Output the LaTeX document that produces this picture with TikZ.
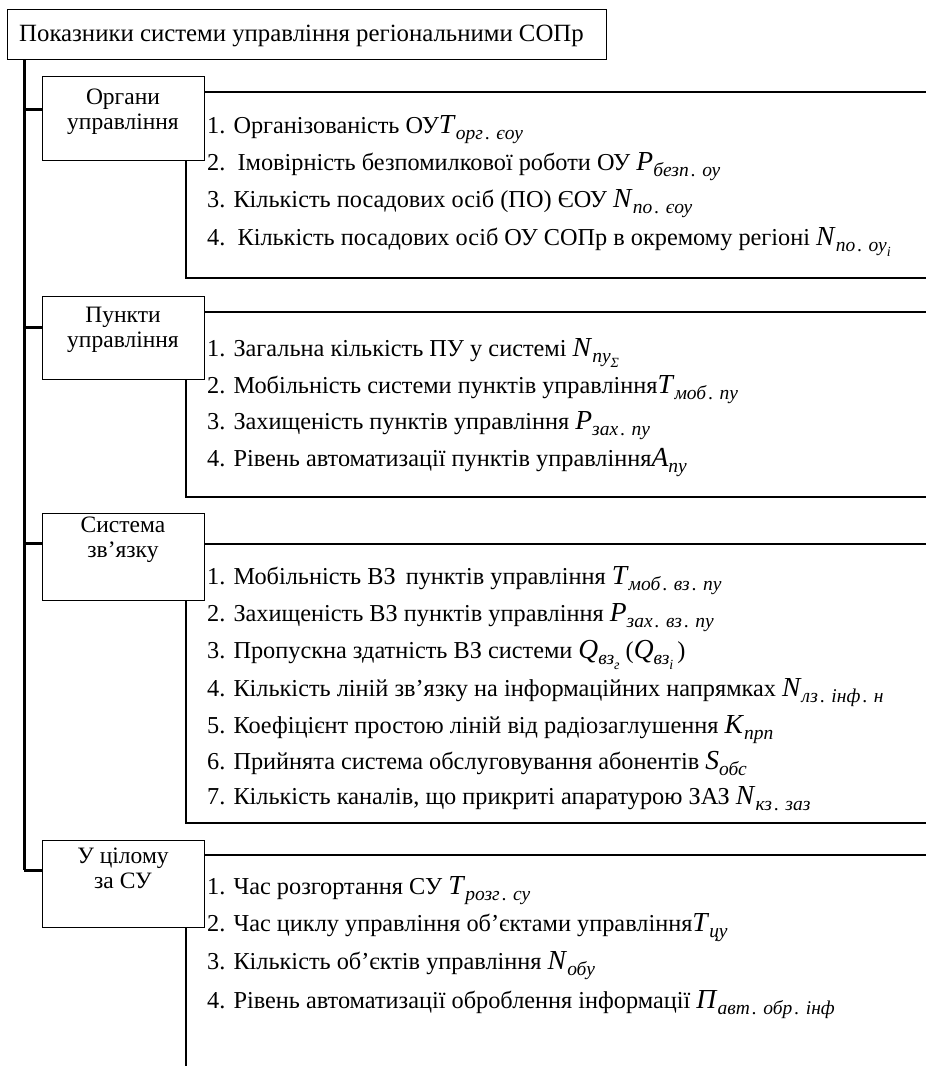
\documentclass[tikz,border=0pt]{standalone}
\usepackage{fontspec}
\setmainfont{Liberation Serif}
\newcommand\sd{\hspace{0.12em}.\hspace{0.32em}}
\newcommand\vr[2]{{\fontsize{27.5}{27.5}\selectfont\textit{#1}}\raisebox{-0.6ex}{\fontsize{19.5}{19.5}\selectfont\textit{#2}}}
\newcommand\vrr[3]{{\fontsize{27.5}{27.5}\selectfont\textit{#1}}\raisebox{-0.6ex}{\fontsize{19.5}{19.5}\selectfont\textit{#2}\raisebox{-0.55ex}{\fontsize{14}{14}\selectfont\textit{#3}}}}
\tikzset{
  catbox/.style={draw, line width=1.4pt, minimum width=162pt, anchor=north west, inner sep=0pt},
  cattext/.style={align=center, font=\fontsize{23.5}{25}\selectfont, inner sep=0pt},
  item/.style={anchor=base west, inner sep=0pt, font=\fontsize{24.3}{26}\selectfont},
  cline/.style={line width=1.6pt},
  trunk/.style={line width=3pt},
}
\begin{document}
\begin{tikzpicture}[x=1pt,y=-1pt]
\useasboundingbox (0,0) rectangle (926,1066);
% title
\node[draw, line width=1.4pt, anchor=north west, minimum width=599pt, minimum height=50pt, inner sep=0pt] (top) at (7,9) {};
\node[anchor=base west, inner sep=0pt, font=\fontsize{24.8}{26}\selectfont] (toptext) at (19,41) {Показники системи управління регіональними СОПр};
% categories
\node[catbox, minimum height=84pt] (c1) at (42,76) {};
\node[cattext] (t1) at (123,112) {Органи\\управління};
\node[catbox, minimum height=83pt] (c2) at (42,296) {};
\node[cattext] (t2) at (123,330) {Пункти\\управління};
\node[catbox, minimum height=87pt] (c3) at (42,513) {};
\node[cattext] (t3) at (123,540) {Система\\зв’язку};
\node[catbox, minimum height=87pt] (c4) at (42,840) {};
\node[cattext] (t4) at (123,868) {У цілому\\за СУ};
% trunk
\coordinate (ts) at (24,59);
\coordinate (b1) at (24,109);
\coordinate (b2) at (24,327);
\coordinate (b3) at (24,543);
\coordinate (b4) at (24,870);
\draw[trunk] (ts) -- (b4);
\draw[trunk] (b1) -- (b1 -| c1.west);
\draw[trunk] (b2) -- (b2 -| c2.west);
\draw[trunk] (b3) -- (b3 -| c3.west);
\draw[trunk] (b4) -- (b4 -| c4.west);
% content frames
\coordinate (r1t) at (926,92);  \coordinate (r1b) at (926,278);
\coordinate (r2t) at (926,312); \coordinate (r2b) at (926,497);
\coordinate (r3t) at (926,544); \coordinate (r3b) at (926,823);
\coordinate (r4t) at (926,855); \coordinate (r4b) at (186,1066);
\draw[cline] (r1t -| c1.east) -- (r1t);
\draw[cline] (186,160) -- (186,278) -- (r1b);
\draw[cline] (r2t -| c2.east) -- (r2t);
\draw[cline] (186,379) -- (186,497) -- (r2b);
\draw[cline] (r3t -| c3.east) -- (r3t);
\draw[cline] (186,600) -- (186,823) -- (r3b);
\draw[cline] (r4t -| c4.east) -- (r4t);
\draw[cline] (186,927) -- (r4b);
% items
\node[item] (a1) at (207,133) {1. Організованість ОУ\vr{T}{орг\sd єоу}};
\node[item] (a2) at (207,170) {2. \,Імовірність безпомилкової роботи ОУ \vr{P}{безп\sd оу}};
\node[item] (a3) at (207,207) {3. Кількість посадових осіб (ПО) ЄОУ \vr{N}{по\sd єоу}};
\node[item] (a4) at (207,245) {4. \,Кількість посадових осіб ОУ СОПр в окремому регіоні \vrr{N}{по\sd оу}{i}};
\node[item] (p1) at (207,356) {1. Загальна кількість ПУ у системі \vrr{N}{пу}{Σ}};
\node[item] (p2) at (207,393) {2. Мобільність системи пунктів управління\vr{T}{моб\sd пу}};
\node[item] (p3) at (207,429) {3. Захищеність пунктів управління \vr{P}{зах\sd пу}};
\node[item] (p4) at (207,466) {4. Рівень автоматизації пунктів управління\vr{A}{пу}};
\node[item] (s1) at (207,584) {1. Мобільність ВЗ \,пунктів управління \vr{T}{моб\sd вз\sd пу}};
\node[item] (s2) at (207,621) {2. Захищеність ВЗ пунктів управління \vr{P}{зах\sd вз\sd пу}};
\node[item] (s3) at (207,658) {3. Пропускна здатність ВЗ системи \vrr{Q}{вз}{г} (\vrr{Q}{вз}{i}\,)};
\node[item] (s4) at (207,696) {4. Кількість ліній зв’язку на інформаційних напрямках \vr{N}{лз\sd інф\sd н}};
\node[item] (s5) at (207,733) {5. Коефіцієнт простою ліній від радіозаглушення \vr{K}{прп}};
\node[item] (s6) at (207,769) {6. Прийнята система обслуговування абонентів \vr{S}{обс}};
\node[item] (s7) at (207,804) {7. Кількість каналів, що прикриті апаратурою ЗАЗ \vr{N}{кз\sd заз}};
\node[item] (u1) at (207,894) {1. Час розгортання СУ \vr{T}{розг\sd су}};
\node[item] (u2) at (207,931) {2. Час циклу управління об’єктами управління\vr{T}{цу}};
\node[item] (u3) at (207,969) {3. Кількість об’єктів управління \vr{N}{обу}};
\node[item] (u4) at (207,1008) {4. Рівень автоматизації оброблення інформації \vr{П}{авт\sd обр\sd інф}};
\end{tikzpicture}
\end{document}
